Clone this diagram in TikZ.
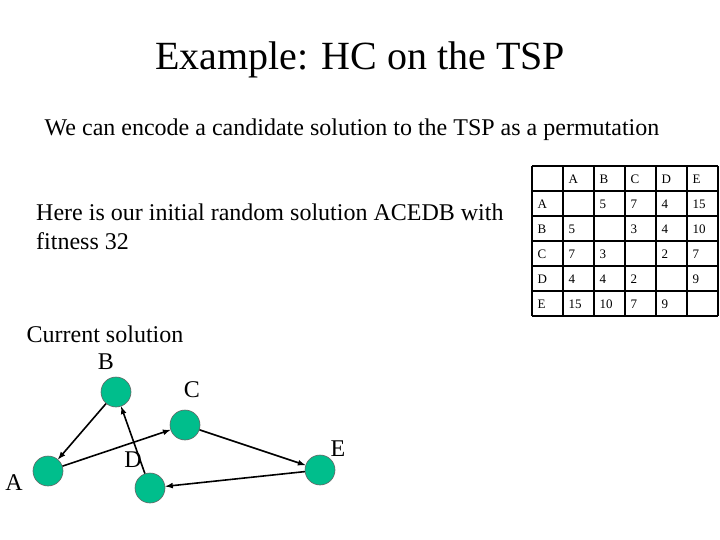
\documentclass[tikz,border=0pt]{standalone}
\usepackage{fontspec}
\setmainfont{Liberation Serif}
\definecolor{cityfill}{RGB}{0,190,140}
\begin{document}
\begin{tikzpicture}[x=1pt,y=-1pt,
  city/.style={circle,draw=black!60,fill=cityfill,minimum size=30pt,inner sep=0pt,line width=0.6pt},
  tour/.style={-latex,line width=1.6pt},
  lbl/.style={font=\fontsize{24}{26}\selectfont},
  cell/.style={anchor=west,font=\fontsize{13}{14}\selectfont}]
\useasboundingbox (0,0) rectangle (720,540);
\node[font=\fontsize{40}{44}\selectfont] (title) at (360,60) {Example: HC on the TSP};
\node[font=\fontsize{24}{26}\selectfont] (sub) at (352,130) {We can encode a candidate solution to the TSP as a permutation};
\node[font=\fontsize{24}{29}\selectfont,align=left,anchor=north west,inner sep=0pt] (init) at (36,204) {Here is our initial random solution ACEDB with\\fitness 32};
\node[lbl] (cur) at (105,334) {Current solution};
\node[lbl] (lB) at (106,362) {B};
\node[lbl] (lC) at (192,390) {C};
\node[lbl] (lA) at (14,483) {A};
\node[lbl] (lD) at (133,460) {D};
\node[lbl] (lE) at (338,449) {E};
\node[city] (B) at (116,392) {};
\node[city] (C) at (185,425) {};
\node[city] (A) at (48,471) {};
\node[city] (D) at (150,488) {};
\node[city] (E) at (320,470) {};
\draw[tour] (B) -- (A);
\draw[tour] (A) -- (C);
\draw[tour] (C) -- (E);
\draw[tour] (E) -- (D);
\draw[tour] (D) -- (B);
% table
\foreach \i in {0,...,6} {
  \draw[line width=1.8pt] (532+\i*31,166) -- (532+\i*31,316);
  \draw[line width=1.8pt] (532,166+\i*25) -- (718,166+\i*25);
}
\foreach \t [count=\k from 1] in {A,B,C,D,E} {
  \node[cell] (h\k) at (532+\k*31+2,179) {\t};
  \node[cell] (r\k) at (534,179+\k*25) {\t};
}
\foreach \r/\vals in {1/{ ,5,7,4,15},2/{5, ,3,4,10},3/{7,3, ,2,7},4/{4,4,2, ,9},5/{15,10,7,9, }} {
  \foreach \v [count=\c from 1] in \vals {
    \node[cell] at (532+\c*31+2,179+\r*25) {\v};
  }
}
\end{tikzpicture}
\end{document}
